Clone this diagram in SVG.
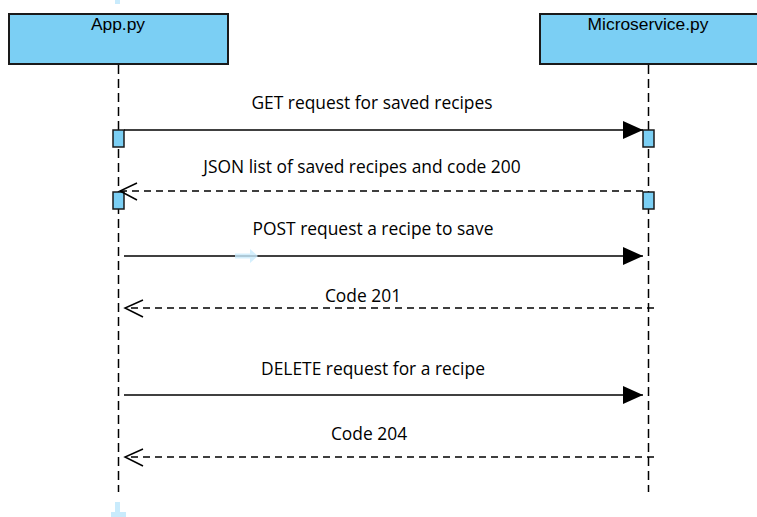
<svg xmlns="http://www.w3.org/2000/svg" width="757" height="517" viewBox="0 0 757 517">
<style>
.head{fill:#7bcff4;stroke:#1a1a1a;stroke-width:2}
.htxt{font-family:"Liberation Sans",Arial,sans-serif;font-size:17.4px;fill:#000;text-anchor:middle}
.life{stroke:#000;stroke-width:1.5;stroke-dasharray:9 5;fill:none}
.act{fill:#7bcff4;stroke:#1a1a1a;stroke-width:1.5}
.sync{stroke:#000;stroke-width:1.5;fill:none}
.ret{stroke:#000;stroke-width:1.5;stroke-dasharray:7 5;fill:none}
.lbl{font-family:"Open Sans","Noto Sans",sans-serif;font-size:17.4px;fill:#000;text-anchor:middle}
.open{stroke:#000;stroke-width:1.5;fill:none}
.ghost{fill:#c9ebfc}
</style>
<defs>
<marker id="filled" markerWidth="20" markerHeight="18" refX="20" refY="9" orient="auto" markerUnits="userSpaceOnUse">
<path d="M0,0 L20,9 L0,18 Z" fill="#000"/>
</marker>
</defs>
<rect width="757" height="517" fill="#fff"/>
<rect class="ghost" x="115" y="0" width="5" height="4"/>
<g id="app">
<rect class="head" x="9" y="14" width="219" height="50"/>
<text class="htxt" x="118" y="30">App.py</text>
<line class="life" x1="118.5" y1="65" x2="118.5" y2="492"/>
<rect class="act" x="113" y="130" width="11" height="17"/>
<rect class="act" x="113" y="192" width="11" height="17"/>
</g>
<g id="microservice">
<rect class="head" x="540" y="14" width="218" height="50"/>
<text class="htxt" x="648" y="30">Microservice.py</text>
<line class="life" x1="648.5" y1="65" x2="648.5" y2="492"/>
<rect class="act" x="643" y="130" width="11" height="17"/>
<rect class="act" x="643" y="192" width="11" height="17"/>
</g>
<g id="connectors">
<line class="sync" x1="124" y1="130" x2="643" y2="130" marker-end="url(#filled)"/>
<text class="lbl" x="372" y="109">GET request for saved recipes</text>
<line class="ret" x1="643" y1="191" x2="121" y2="191"/>
<polyline class="open" points="137,183 120,191 137,200"/>
<text class="lbl" x="362" y="173">JSON list of saved recipes and code 200</text>
<line class="sync" x1="124" y1="256" x2="643" y2="256" marker-end="url(#filled)"/>
<text class="lbl" x="373" y="235">POST request a recipe to save</text>
<line class="ret" x1="654" y1="308" x2="126" y2="308"/>
<polyline class="open" points="143,300 125,308 143,317"/>
<text class="lbl" x="363" y="302">Code 201</text>
<line class="sync" x1="124" y1="395" x2="643" y2="395" marker-end="url(#filled)"/>
<text class="lbl" x="373" y="375">DELETE request for a recipe</text>
<line class="ret" x1="654" y1="457" x2="126" y2="457"/>
<polyline class="open" points="143,449 125,457 143,466"/>
<text class="lbl" x="369" y="440">Code 204</text>
</g>
<path class="ghost" d="M235,253.5 H250 V249 L258,256 L250,263 V258.5 H235 Z" opacity="0.8"/>
<path class="ghost" d="M115,502 H120 V512 H126 V517 H111 V512 H115 Z"/>
</svg>
